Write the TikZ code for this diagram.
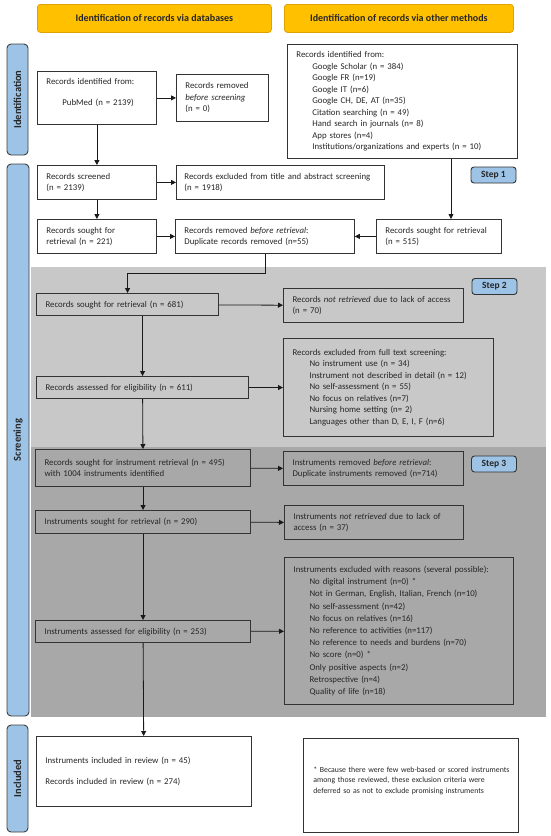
\documentclass[tikz,border=0pt]{standalone}
\usepackage{fontspec}
\setmainfont{Carlito}
\usetikzlibrary{arrows.meta}
\definecolor{txt}{HTML}{262626}
\definecolor{hdr}{HTML}{FFC000}
\definecolor{hdrline}{HTML}{E0A200}
\definecolor{sideblue}{HTML}{9DC3E6}
\definecolor{lgray}{HTML}{C8C8C8}
\definecolor{dgray}{HTML}{A8A8A8}
\begin{document}
\begin{tikzpicture}[x=1pt,y=-1pt,
  every node/.style={font=\fontsize{8.8}{11.5}\selectfont, text=txt},
  box/.style={draw=black!80, line width=0.8pt, fill=white, align=left,
    inner xsep=9pt, inner ysep=0pt, anchor=north west},
  gbox/.style={box, fill=none, draw=black!80, line width=1.1pt},
  header/.style={draw=hdrline, line width=0.8pt, fill=hdr, rounded corners=3pt,
    anchor=north west, font=\fontsize{10}{12}\selectfont\bfseries, inner sep=0pt},
  side/.style={draw=black!75, line width=0.9pt, fill=sideblue, rounded corners=4pt,
    rotate=90, font=\fontsize{10.5}{12}\selectfont\bfseries, inner sep=0pt},
  stepbox/.style={draw=black!80, line width=0.9pt, fill=sideblue, rounded corners=3pt,
    font=\fontsize{9.5}{11}\selectfont\bfseries, inner sep=0pt, minimum width=45pt, minimum height=16pt},
  arr/.style={draw=black!90, line width=0.8pt, -{Triangle[length=5pt,width=5pt]}},
]
\useasboundingbox (0,0) rectangle (550,836);
\fill[white] (0,0) rectangle (550,836);
% shaded regions
\fill[lgray] (31,267) rectangle (546,447);
\fill[dgray] (31,447) rectangle (546,717);

% headers
\node[header, minimum width=234pt, minimum height=28pt] (h1) at (37,4) {Identification of records via databases};
\node[header, minimum width=229pt, minimum height=28pt] (h2) at (284,4) {Identification of records via other methods};

% side labels
\node[side, minimum width=111pt, minimum height=21pt] (s1) at (17.5,99.5) {Identification};
\node[side, minimum width=552pt, minimum height=22pt] (s2) at (18,440) {Screening};
\node[side, minimum width=107pt, minimum height=21pt] (s3) at (17.5,778.5) {Included};

% identification
\node[box, text width=101pt, minimum height=53pt] (b1) at (37,71)
  {Records identified from:\\[9.5pt]\hspace*{16pt}PubMed (n = 2139)\\\mbox{}};
\node[box, text width=74pt, minimum height=47pt] (b2) at (176,74)
  {Records removed\\\textit{before screening}\\(n = 0)};
\node[box, text width=212pt, minimum height=114pt] (b3) at (287,44)
  {Records identified from:\\
   \hspace*{16pt}Google Scholar (n = 384)\\
   \hspace*{16pt}Google FR (n=19)\\
   \hspace*{16pt}Google IT (n=6)\\
   \hspace*{16pt}Google CH, DE, AT (n=35)\\
   \hspace*{16pt}Citation searching (n = 49)\\
   \hspace*{16pt}Hand search in journals (n= 8)\\
   \hspace*{16pt}App stores (n=4)\\
   \hspace*{16pt}Institutions/organizations and experts (n = 10)};

% screening (white part)
\node[box, text width=101pt, minimum height=34pt] (b4) at (37,165)
  {Records screened\\(n = 2139)};
\node[box, text width=194pt, inner xsep=7pt, minimum height=34pt] (b5) at (176,165)
  {\hspace*{1pt}Records excluded from title and abstract screening\\\hspace*{1pt}(n = 1918)};
\node[stepbox] (st1) at (493.5,175) {Step 1};
\node[box, text width=101pt, minimum height=34pt] (b6) at (37,219)
  {Records sought for\\retrieval (n = 221)};
\node[box, text width=161pt, minimum height=34pt] (b7) at (175,219)
  {Records removed \textit{before retrieval}:\\Duplicate records removed (n=55)};
\node[box, text width=107pt, minimum height=34pt] (b8) at (376,219)
  {Records sought for retrieval\\(n = 515)};

% step 2 region
\node[gbox, text width=164pt, minimum height=22pt] (b9) at (36,293)
  {Records sought for retrieval (n = 681)};
\node[gbox, text width=162pt, minimum height=34pt] (b10) at (283,288)
  {Records \textit{not retrieved} due to lack of access\\(n = 70)};
\node[stepbox] (st2) at (494.5,286.5) {Step 2};
\node[gbox, text width=192pt, minimum height=98pt] (b11) at (283,338)
  {Records excluded from full text screening:\\
   \hspace*{17pt}No instrument use (n = 34)\\
   \hspace*{17pt}Instrument not described in detail (n = 12)\\
   \hspace*{17pt}No self-assessment (n = 55)\\
   \hspace*{17pt}No focus on relatives (n=7)\\
   \hspace*{17pt}Nursing home setting (n= 2)\\
   \hspace*{17pt}Languages other than D, E, I, F (n=6)};
\node[gbox, text width=194pt, minimum height=22pt] (b12) at (36,376)
  {Records assessed for eligibility (n = 611)};

% step 3 region
\node[gbox, text width=197pt, minimum height=37pt] (b13) at (35,449)
  {Records sought for instrument retrieval (n = 495)\\with 1004 instruments identified};
\node[gbox, text width=162pt, minimum height=34pt] (b14) at (283,451)
  {Instruments removed \textit{before retrieval}:\\Duplicate instruments removed (n=714)};
\node[stepbox] (st3) at (494,464) {Step 3};
\node[gbox, text width=197pt, minimum height=23pt] (b15) at (35,510)
  {Instruments sought for retrieval (n = 290)};
\node[gbox, text width=161pt, minimum height=34pt] (b16) at (284,505)
  {Instruments \textit{not retrieved} due to lack of\\access (n = 37)};
\node[gbox, text width=211pt, minimum height=147pt, font=\fontsize{8.8}{12.2}\selectfont] (b17) at (284,557)
  {Instruments excluded with reasons (several possible):\\
   \hspace*{16pt}No digital instrument (n=0) *\\
   \hspace*{16pt}Not in German, English, Italian, French (n=10)\\
   \hspace*{16pt}No self-assessment (n=42)\\
   \hspace*{16pt}No focus on relatives (n=16)\\
   \hspace*{16pt}No reference to activities (n=117)\\
   \hspace*{16pt}No reference to needs and burdens (n=70)\\
   \hspace*{16pt}No score (n=0) *\\
   \hspace*{16pt}Only positive aspects (n=2)\\
   \hspace*{16pt}Retrospective (n=4)\\
   \hspace*{16pt}Quality of life (n=18)};
\node[gbox, text width=197pt, minimum height=22pt] (b18) at (35,620)
  {Instruments assessed for eligibility (n = 253)};

% included
\node[box, text width=197pt, minimum height=70pt] (b19) at (36,736)
  {Instruments included in review (n = 45)\\[9.5pt]Records included in review (n = 274)};
\node[box, text width=201pt, minimum height=94pt, inner xsep=7pt, font=\fontsize{7.8}{10.5}\selectfont] (b20) at (303,738)
  {\hspace*{3pt}* Because there were few web-based or scored instruments\\
   \hspace*{3pt}among those reviewed, these exclusion criteria were\\
   \hspace*{3pt}deferred so as not to exclude promising instruments\\\mbox{}};

% connectors
\draw[arr] (b1) -- (b2);
\draw[arr] (b1) -- (b4);
\draw[arr] (b4) -- (b5);
\draw[arr] (b4) -- (b6);
\draw[arr] (b6) -- (b7);
\draw[arr] (b3.south -| 451,0) -- (b8.north -| 451,0);
\draw[arr] (b8) -- (b7);
\draw[arr] (b7.south) -- ++(0,20) -| (b9.north);
\draw[arr] (b9) -- (b10);
\draw[arr] (b9.south -| b12.north) -- (b12.north);
\draw[arr] (b12) -- (b12 -| b11.west);
\draw[arr] (b12) -- (b13);
\draw[arr] (b13) -- (b14);
\draw[arr] (b13) -- (b15);
\draw[arr] (b15) -- (b16);
\draw[arr] (b15) -- (b18);
\draw[arr] (b18) -- (b17);
\draw[arr] (b18) -- (b19);
\end{tikzpicture}
\end{document}
